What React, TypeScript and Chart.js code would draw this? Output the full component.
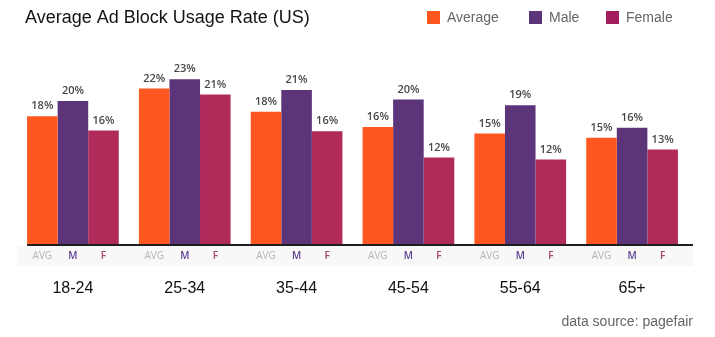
import React, { useEffect, useRef } from "react";
import { Chart, registerables } from "chart.js";

Chart.register(...registerables);

const categories = ["18-24", "25-34", "35-44", "45-54", "55-64", "65+"];
const averageValues = [17.8, 21.6, 18.4, 16.3, 15.4, 14.8];
const maleValues = [19.9, 22.9, 21.4, 20.1, 19.3, 16.2];
const femaleValues = [15.8, 20.8, 15.7, 12.1, 11.8, 13.2];
const seriesNames = ["Average", "Male", "Female"];
const barTags = ["AVG", "M", "F"];
const titleText = "Average Ad Block Usage Rate (US)";
const sourceText = "data source: pagefair";

const COLORS = ["#FE5720", "#5B3479", "#B02B59"];
const LEGEND_COLORS = ["#FE5720", "#5B3479", "#A01F5C"];
const TAG_COLORS = ["#B4B4B4", "#5E3C8E", "#A84070"];

const decorPlugin = {
  id: "decor",
  afterDraw(chart: any) {
    const ctx = chart.ctx;
    const area = chart.chartArea;
    ctx.save();
    const first = chart.getDatasetMeta(0).data[0];
    const leftEdge = first.x - first.width / 2;
    // faint band under baseline
    ctx.fillStyle = "#f8f8f8";
    ctx.fillRect(area.left, area.bottom + 1, area.right - area.left + 5, 20);
    // baseline
    ctx.fillStyle = "#1e1e1e";
    ctx.fillRect(leftEdge, area.bottom - 1, area.right + 5 - leftEdge, 2);

    // value labels and bar tags
    chart.data.datasets.forEach((ds: any, di: number) => {
      const meta = chart.getDatasetMeta(di);
      meta.data.forEach((bar: any, i: number) => {
        ctx.textAlign = "center";
        ctx.textBaseline = "middle";
        ctx.font = "600 11px 'Open Sans'";
        ctx.fillStyle = "#474747";
        ctx.fillText(Math.round(ds.data[i]) + "%", bar.x, bar.y - 10);
        ctx.font = (di === 0 ? "400" : "600") + " 10px 'Open Sans'";
        ctx.fillStyle = TAG_COLORS[di];
        ctx.fillText(barTags[di], bar.x, area.bottom + 11);
      });
    });

    // title
    ctx.textAlign = "left";
    ctx.textBaseline = "middle";
    ctx.font = "18px 'Liberation Sans'";
    ctx.fillStyle = "#141414";
    ctx.fillText(titleText, 25, 18);

    // legend
    const legendX = [427, 529, 606];
    ctx.font = "14px 'Liberation Sans'";
    seriesNames.forEach((name, i) => {
      ctx.fillStyle = LEGEND_COLORS[i];
      ctx.fillRect(legendX[i], 11, 13, 13);
      ctx.fillStyle = "#666666";
      ctx.fillText(name, legendX[i] + 20, 18);
    });

    // source
    ctx.textAlign = "right";
    ctx.font = "14px 'Liberation Sans'";
    ctx.fillStyle = "#666666";
    ctx.fillText(sourceText, 693, 322);
    ctx.restore();
  },
};

export default function App() {
  const ref = useRef<HTMLCanvasElement | null>(null);
  useEffect(() => {
    document.body.style.margin = "0";
    const canvas = ref.current;
    if (!canvas) return;
    const chart = new Chart(canvas, {
      type: "bar",
      data: {
        labels: categories,
        datasets: [
          { label: seriesNames[0], data: averageValues, backgroundColor: COLORS[0] },
          { label: seriesNames[1], data: maleValues, backgroundColor: COLORS[1] },
          { label: seriesNames[2], data: femaleValues, backgroundColor: COLORS[2] },
        ],
      },
      options: {
        animation: false,
        responsive: false,
        events: [],
        datasets: { bar: { categoryPercentage: 0.82, barPercentage: 1 } },
        layout: { padding: { top: 64, left: 17, right: 27, bottom: 0 } },
        plugins: { legend: { display: false }, title: { display: false }, tooltip: { enabled: false } },
        scales: {
          y: { display: false, min: 0, max: 25 },
          x: {
            grid: { display: false, drawTicks: false },
            border: { display: false },
            ticks: {
              color: "#111111",
              font: { family: "'Liberation Sans'", size: 16 },
              padding: 34,
            },
            afterFit(scale: any) {
              scale.height = 92;
            },
          },
        },
      },
      plugins: [decorPlugin],
    });
    return () => chart.destroy();
  }, []);
  return (
    <div style={{ position: "fixed", left: 0, top: 0, width: 715, height: 337, background: "#fff" }}>
      <canvas ref={ref} width={715} height={337} style={{ display: "block" }} />
    </div>
  );
}
